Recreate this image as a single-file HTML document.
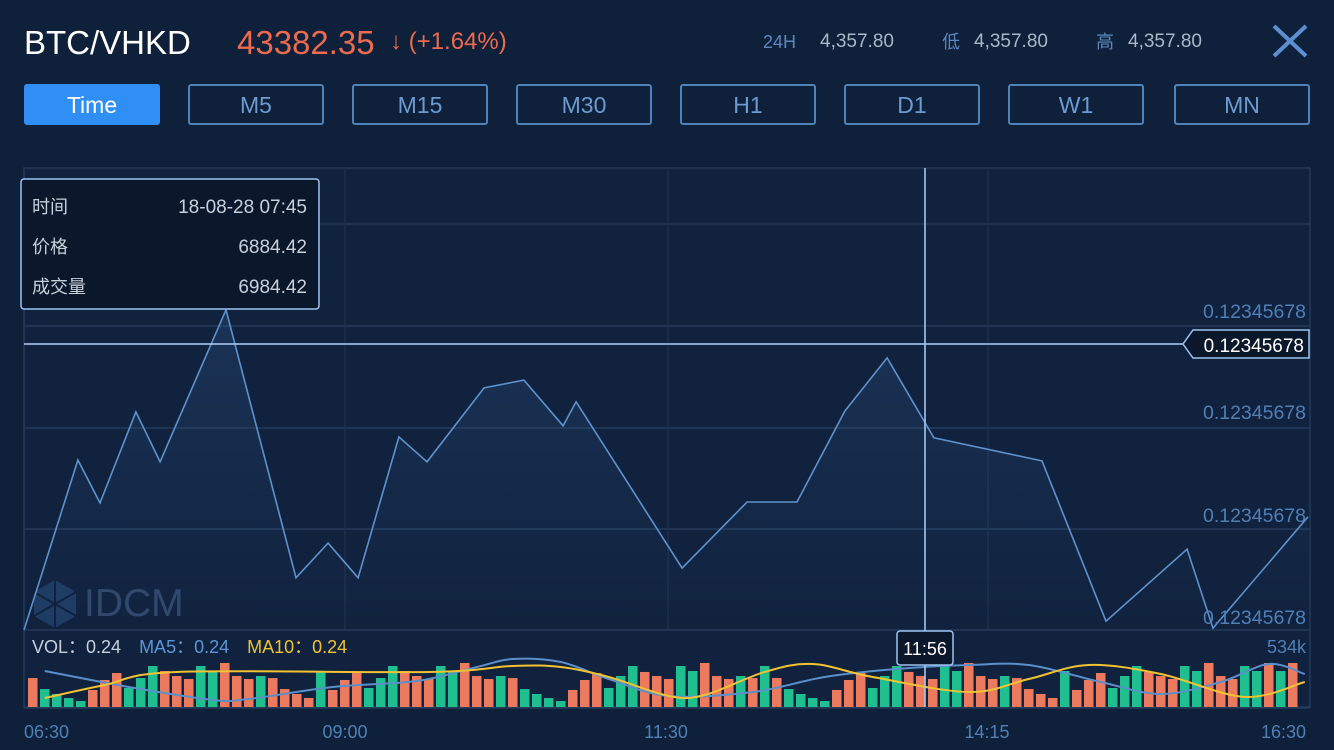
<!DOCTYPE html>
<html><head><meta charset="utf-8">
<style>
html,body{margin:0;padding:0;background:#0f203a;width:1334px;height:750px;overflow:hidden;font-family:"Liberation Sans","Noto Sans CJK SC",sans-serif;}
.abs{position:absolute;white-space:nowrap;line-height:1}
.btn{position:absolute;top:84px;height:41px;border:2px solid #4f82b8;border-radius:3px;box-sizing:border-box;color:#6d9ad0;font-size:23px;line-height:39px;text-align:center}
.lab{position:absolute;top:32px;font-size:18px;color:#5b87bd;line-height:20px}
.val{position:absolute;top:32px;font-size:19px;color:#a9b7c8;line-height:20px}
</style></head><body>
<div class="abs" style="left:24px;top:26px;font-size:33px;color:#fff">BTC/VHKD</div>
<div class="abs" style="left:237px;top:26px;font-size:33px;color:#ec6a4e">43382.35</div>
<div class="abs" style="left:390px;top:30px;font-size:24px;color:#ec6a4e"><b>↓</b> (+1.64%)</div>
<div class="lab" style="left:763px">24H</div>
<div class="val" style="left:820px">4,357.80</div>
<div class="lab" style="left:942px">低</div>
<div class="val" style="left:974px">4,357.80</div>
<div class="lab" style="left:1096px">高</div>
<div class="val" style="left:1128px">4,357.80</div>
<svg class="abs" style="left:1272px;top:24px" width="36" height="34"><path d="M2 2L34 32M34 2L2 32" stroke="#5b8fd0" stroke-width="4"/></svg>
<div class="btn" style="left:24px;width:136px;background:#2f8ff5;border-color:#2f8ff5;color:#fff">Time</div>
<div class="btn" style="left:188px;width:136px">M5</div>
<div class="btn" style="left:352px;width:136px">M15</div>
<div class="btn" style="left:516px;width:136px">M30</div>
<div class="btn" style="left:680px;width:136px">H1</div>
<div class="btn" style="left:844px;width:136px">D1</div>
<div class="btn" style="left:1008px;width:136px">W1</div>
<div class="btn" style="left:1174px;width:136px">MN</div>
<svg id="chart" class="abs" style="left:0;top:0" width="1334" height="750"></svg>
<script>
const times=[0,25.2,35.5,52.3,63.6,94.4,127.1,142.1,156.1,175.2,188.3,215,233.6,251.9,258,307.5,337.9,361.2,383.6,403.3,425.2,475.7,505.6,543.5,555.6,600];
const prices=[0,36.8,27.5,47.2,36.4,69.3,11.3,18.8,11.3,41.8,36.4,52.4,54.1,44.2,49.4,13.4,27.7,27.7,47.4,58.9,41.6,36.6,1.9,17.5,0.4,24.5];
const timeTicks=[0,150,300,450,600];
const timeLabels=['06:30','09:00','11:30','14:15','16:30'];
const priceTicks=[2.8,24.9,47.2,69];
const priceLabels=['0.12345678','0.12345678','0.12345678','0.12345678'];
const volumes=[329,204,148,102,68,193,307,386,216,329,466,409,352,318,466,409,500,352,318,352,329,204,148,102,409,193,307,386,216,329,466,409,352,318,466,409,500,352,318,352,329,204,148,102,68,193,307,386,216,352,466,398,352,
318,466,409,500,352,318,352,329,466,329,204,148,102,68,193,307,386,216,352,466,398,352,318,466,409,500,352,318,352,329,204,148,102,409,193,307,386,216,352,466,398,352,318,466,409,500,352,318,466,409,500,409,500];
const volUp=[0,1,1,1,1,0,0,0,1,1,1,0,0,0,1,1,0,0,0,1,0,0,0,0,1,0,0,0,1,1,1,0,0,0,1,1,0,0,0,1,0,1,1,1,1,0,0,0,1,1,1,0,0,
0,1,1,0,0,0,1,0,1,0,1,1,1,1,0,0,0,1,1,1,0,0,0,1,1,0,0,0,1,0,0,0,0,1,0,0,0,1,1,1,0,0,0,1,1,0,0,0,1,1,0,1,0];
const ma5Idx=[1,8,15,18,25,32,37,40,44,48,53,60,66,72,78,83,89,94,99,103,106];
const ma5Val=[409,227,80,91,227,295,454,545,511,318,125,170,341,432,477,477,284,148,284,488,375];
const ma10Idx=[1,6,12,33,40,44,48,53,56,61,65,70,78,83,88,94,101,106];
const ma10Val=[102,250,398,398,466,454,341,125,136,398,488,341,170,318,477,375,114,284];
const L=24,R=1310,T=168,B=630,VB=707;
const xT=t=>L+t*2.14;
const yP=v=>B-v*4.62;
const xI=i=>28+i*12;
const yV=v=>VB-v*47/534;
const svg=document.getElementById('chart');const NS='http://www.w3.org/2000/svg';
function mk(tag,attrs,parent){const e=document.createElementNS(NS,tag);for(const k in attrs)e.setAttribute(k,attrs[k]);(parent||svg).appendChild(e);return e;}
mk('rect',{x:L,y:T,width:R-L,height:VB-T,fill:'#10223e',stroke:'#243a58','stroke-width':1.5});
[224,326,428,529].forEach(y=>{const g=mk('line',{x1:L,x2:R,y1:y,y2:y,stroke:'#243a58','stroke-width':1.5});

});
[345,668,988].forEach(x=>{const g=mk('line',{x1:x,x2:x,y1:T,y2:B,stroke:'#1e3350','stroke-width':1.2});

});
mk('line',{x1:L,x2:R,y1:B,y2:B,stroke:'#243a58','stroke-width':1.5});
const wm=mk('g',{opacity:0.35});


mk('polygon',{points:'55,580 76,592 76,616 55,628 34,616 34,592',fill:'#3a6aa8'},wm);
mk('path',{d:'M55,580V628M34,592L76,616M76,592L34,616',stroke:'#0f203a','stroke-width':2},wm);
const wt=mk('text',{x:84,y:616,'font-size':39,fill:'#7090c0','font-family':'Liberation Sans'},wm);wt.textContent='IDCM';
const defs=mk('defs',{});const gr=mk('linearGradient',{id:'ag',x1:0,y1:0,x2:0,y2:1},defs);
mk('stop',{offset:0,'stop-color':'#3f6fae','stop-opacity':0.22},gr);mk('stop',{offset:1,'stop-color':'#3f6fae','stop-opacity':0.0},gr);
let d=times.map((t,i)=>(i?'L':'M')+xT(t).toFixed(1)+','+yP(prices[i]).toFixed(1)).join('');
const area=mk('path',{d:d+'L'+xT(times[times.length-1])+','+B+'L'+xT(times[0])+','+B+'Z',fill:'url(#ag)'});


const line=mk('path',{d:d,fill:'none',stroke:'#5f92cc','stroke-width':1.6});


priceTicks.forEach((v,i)=>{const t=mk('text',{x:1306,y:yP(v)+7,'text-anchor':'end','font-size':19.5,fill:'#4f7fb5'});t.textContent=priceLabels[i];

});
timeTicks.forEach((v,i)=>{const x=xT(v);const anc=i==0?'start':(i==timeTicks.length-1?'end':'middle');
const t=mk('text',{x:i==0?L:(i==timeTicks.length-1?R-4:x),y:738,'text-anchor':anc,'font-size':18,fill:'#4f7fb5'});t.textContent=timeLabels[i];

});
volumes.forEach((v,i)=>{const r=mk('rect',{x:xI(i),y:yV(v),width:9.5,height:VB-yV(v),fill:volUp[i]?'#1fbf8f':'#ec7a5e'});

});
function smooth(idx,val){const p=idx.map((k,i)=>[xI(k)+4.75,yV(val[i])]);let s='M'+p[0];for(let i=0;i<p.length-1;i++){const p0=p[i-1]||p[i],p1=p[i],p2=p[i+1],p3=p[i+2]||p2;
s+='C'+(p1[0]+(p2[0]-p0[0])/6)+','+(p1[1]+(p2[1]-p0[1])/6)+' '+(p2[0]-(p3[0]-p1[0])/6)+','+(p2[1]-(p3[1]-p1[1])/6)+' '+p2;}return s;}
const m5=mk('path',{d:smooth(ma5Idx,ma5Val),fill:'none',stroke:'#5b8fc9','stroke-width':2});


const m10=mk('path',{d:smooth(ma10Idx,ma10Val),fill:'none',stroke:'#f1c232','stroke-width':2});


mk('line',{x1:L,x2:R,y1:VB+1,y2:VB+1,stroke:'#243a58','stroke-width':1.5});
const lg=mk('text',{x:32,y:653,'font-size':18});


lg.innerHTML='<tspan fill="#c8d0dc">VOL：0.24</tspan><tspan dx="18" fill="#5b97d8">MA5：0.24</tspan><tspan dx="18" fill="#f1c232">MA10：0.24</tspan>';
const vm=mk('text',{x:1306,y:653,'text-anchor':'end','font-size':18,fill:'#4f7fb5'});vm.textContent='534k';


mk('line',{x1:925,x2:925,y1:T,y2:VB,stroke:'#b0d0f5','stroke-width':1.5});
mk('line',{x1:L,x2:1183,y1:344,y2:344,stroke:'#b0d0f5','stroke-width':1.5});
const pb=mk('polygon',{points:'1193,330 1309,330 1309,358 1193,358 1183,344',fill:'#0b172b',stroke:'#9cc4f2','stroke-width':1.5});


const pt=mk('text',{x:1304,y:352,'text-anchor':'end','font-size':19,fill:'#fff'});pt.textContent='0.12345678';
const tb=mk('rect',{x:897,y:631,width:56,height:34,rx:3,fill:'#0b172b',stroke:'#9cc4f2','stroke-width':1.5});


const tt=mk('text',{x:925,y:655,'text-anchor':'middle','font-size':18,fill:'#fff'});tt.textContent='11:56';
const tg=mk('g',{});


mk('rect',{x:21,y:179,width:298,height:130,rx:3,fill:'#0b172b',stroke:'#9cc4f2','stroke-width':1.5},tg);
[['时间','18-08-28 07:45',213],['价格','6884.42',253],['成交量','6984.42',293]].forEach(r=>{
const a=mk('text',{x:32,y:r[2],'font-size':18,fill:'#c8d0dc'},tg);a.textContent=r[0];
const b=mk('text',{x:307,y:r[2],'text-anchor':'end','font-size':19,fill:'#c8d0dc'},tg);b.textContent=r[1];});
</script>
</body></html>
